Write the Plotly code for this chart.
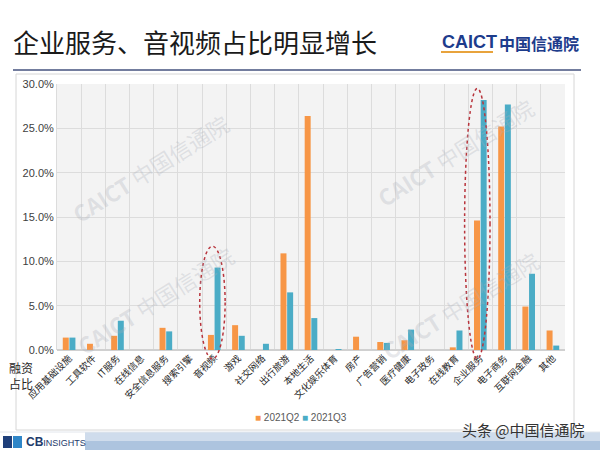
import plotly.graph_objects as go

categories = ["应用基础设施", "工具软件", "IT服务", "在线信息", "安全信息服务", "搜索引擎",
              "音视频", "游戏", "社交网络", "出行旅游", "本地生活", "文化娱乐体育", "房产",
              "广告营销", "医疗健康", "电子政务", "在线教育", "企业服务", "电子商务",
              "互联网金融", "其他"]
q2_values = [1.4, 0.7, 1.6, 0.0, 2.5, 0.0, 1.7, 2.8, 0.0, 10.9, 26.4, 0.0, 1.5,
             0.9, 1.1, 0.0, 0.3, 14.6, 25.2, 4.9, 2.2]
q3_values = [1.4, 0.0, 3.3, 0.0, 2.1, 0.0, 9.3, 1.6, 0.7, 6.5, 3.6, 0.1, 0.0,
             0.8, 2.3, 0.0, 2.2, 28.2, 27.7, 8.6, 0.5]
series_names = ["2021Q2", "2021Q3"]
series_colors = ["#F79646", "#4BACC6"]
y_ticks = [0, 5, 10, 15, 20, 25, 30]
highlighted = ["音视频", "企业服务"]

W, H = 600, 450
ML, MR, MT, MB = 57, 35, 84, 100
PW, PH = W - ML - MR, H - MT - MB
FONT = "Noto Sans CJK SC"

fig = go.Figure()
for name, vals, col in zip(series_names, [q2_values, q3_values], series_colors):
    fig.add_trace(go.Bar(x=categories, y=vals, name=name, showlegend=False,
                         marker=dict(color=col, line=dict(width=0))))

def px_x(p):
    return (p - ML) / PW

def px_y(p):
    return (H - MB - p) / PH

shapes = []
# outer chart frame
shapes.append(dict(type="rect", xref="paper", yref="paper", x0=px_x(16), x1=px_x(574),
                   y0=px_y(430), y1=px_y(74), line=dict(color="#d6d6d6", width=1),
                   fillcolor="rgba(0,0,0,0)", layer="below"))
# title underline
shapes.append(dict(type="line", xref="paper", yref="paper", x0=px_x(13), x1=px_x(581),
                   y0=px_y(70), y1=px_y(70), line=dict(color="#44527e", width=1.5)))
# bottom band: full width, then white patch behind the CB logo
shapes.append(dict(type="rect", xref="paper", yref="paper", x0=px_x(0), x1=px_x(W),
                   y0=px_y(441), y1=px_y(432), line=dict(width=0), fillcolor="#cfdcec"))
shapes.append(dict(type="rect", xref="paper", yref="paper", x0=px_x(0), x1=px_x(W),
                   y0=px_y(H), y1=px_y(441), line=dict(width=0), fillcolor="#adc4df"))
shapes.append(dict(type="rect", xref="paper", yref="paper", x0=px_x(0), x1=px_x(85),
                   y0=px_y(H), y1=px_y(432), line=dict(width=0), fillcolor="#ffffff"))
shapes.append(dict(type="line", xref="paper", yref="paper", x0=px_x(0), x1=px_x(W),
                   y0=px_y(432), y1=px_y(432), line=dict(color="#e2e6ec", width=1)))
# CB logo mark
shapes.append(dict(type="rect", xref="paper", yref="paper", x0=px_x(3), x1=px_x(12),
                   y0=px_y(448), y1=px_y(436), line=dict(width=0), fillcolor="#1f3f7a"))
shapes.append(dict(type="rect", xref="paper", yref="paper", x0=px_x(13), x1=px_x(22),
                   y0=px_y(448), y1=px_y(436), line=dict(width=0), fillcolor="#2f86c8"))
# CAICT underline
shapes.append(dict(type="line", xref="paper", yref="paper", x0=px_x(441), x1=px_x(493),
                   y0=px_y(52), y1=px_y(52), line=dict(color="#e8a33c", width=2)))

# dashed highlight ellipses around highlighted categories
n = len(categories)
ymax = 30.0
pads = {"音视频": (-0.1, 0.95, 2.4), "企业服务": (-0.15, 0.9, 1.3)}
for cat in highlighted:
    i = categories.index(cat)
    lo, hi, top_pad = pads[cat]
    top = max(q2_values[i], q3_values[i]) + top_pad
    shapes.append(dict(type="circle", xref="x domain", yref="y domain",
                       x0=(i + lo) / n, x1=(i + hi) / n,
                       y0=-1.0 / ymax, y1=top / ymax,
                       line=dict(color="#b8343c", width=1.5, dash="dot")))

annotations = [
    dict(text="企业服务、音视频占比明显增长", x=px_x(11), y=px_y(41), xref="paper", yref="paper",
         xanchor="left", yanchor="middle", showarrow=False,
         font=dict(family=FONT, size=26, color="#1a1a1a")),
    dict(text="<b>CAICT</b>", x=px_x(440), y=px_y(42), xref="paper", yref="paper",
         xanchor="left", yanchor="middle", showarrow=False,
         font=dict(family="Liberation Sans", size=18, color="#1d3c8c")),
    dict(text="<b>中国信通院</b>", x=px_x(497), y=px_y(43), xref="paper", yref="paper",
         xanchor="left", yanchor="middle", showarrow=False,
         font=dict(family=FONT, size=16, color="#1d3c8c")),
    dict(text="融资<br>占比", x=px_x(21), y=px_y(375), xref="paper", yref="paper",
         xanchor="center", yanchor="middle", showarrow=False, align="center",
         font=dict(family=FONT, size=12, color="#262626")),
    dict(text="头条 @中国信通院", x=px_x(587), y=px_y(429), xref="paper", yref="paper",
         xanchor="right", yanchor="middle", showarrow=False,
         font=dict(family=FONT, size=15, color="#333333")),
    dict(text="<b>CB</b><span style='font-size:9px'>INSIGHTS</span>", x=px_x(24), y=px_y(442),
         xref="paper", yref="paper", xanchor="left", yanchor="middle", showarrow=False,
         font=dict(family="Liberation Sans", size=12, color="#233a6b")),
]
# compact legend (square swatch + series name)
for k, (name, col) in enumerate(zip(series_names, series_colors)):
    annotations.append(dict(
        text=f"<span style='color:{col}'>■</span> {name}", x=px_x(253 + 47 * k), y=px_y(417),
        xref="paper", yref="paper", xanchor="left", yanchor="middle", showarrow=False,
        font=dict(family="Liberation Sans", size=10, color="#595959")))
for cx, cy in [(150, 168), (455, 152), (155, 300), (460, 305)]:
    annotations.append(dict(text="<b>CAICT</b> 中国信通院", x=px_x(cx), y=px_y(cy),
                            xref="paper", yref="paper", xanchor="center", yanchor="middle",
                            showarrow=False, textangle=-32,
                            font=dict(family=FONT, size=22, color="rgba(170,175,185,0.30)")))

fig.update_layout(
    width=W, height=H, autosize=False,
    paper_bgcolor="white", plot_bgcolor="#f3f3f3",
    margin=dict(l=ML, r=MR, t=MT, b=MB),
    barmode="group", bargap=0.45, bargroupgap=0.1,
    font=dict(family=FONT, size=11, color="#262626"),
    showlegend=False,
    shapes=shapes, annotations=annotations,
)
fig.update_xaxes(type="category", tickangle=-45, tickson="boundaries", showgrid=True,
                 gridcolor="#dcdcdc", gridwidth=1, showline=False, ticks="",
                 tickfont=dict(family=FONT, size=9.5, color="#262626"))
fig.update_yaxes(range=[0, ymax], tickvals=y_ticks, ticktext=[f"{v:.1f}%" for v in y_ticks],
                 showgrid=True, gridcolor="#dcdcdc", gridwidth=1, zeroline=True,
                 zerolinecolor="#d0d0d0", showline=True, linecolor="#dcdcdc", ticks="",
                 tickfont=dict(family="Liberation Sans", size=11, color="#404040"))

fig.write_html("out.html", config={"displayModeBar": False},
               post_script="document.body.style.margin='0';")
